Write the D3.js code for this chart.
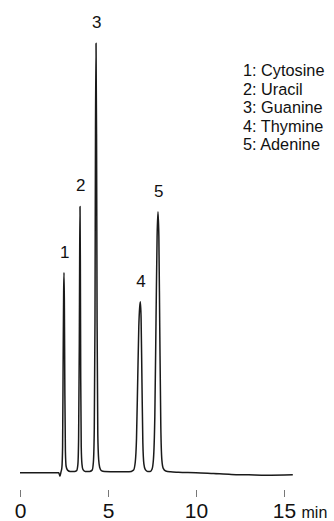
<!DOCTYPE html>
<html>
<head>
<meta charset="utf-8">
<script src="https://cdn.jsdelivr.net/npm/d3@7"></script>
<style>
  html, body { margin: 0; padding: 0; background: #fff; }
  svg { display: block; }
  text { font-family: "Liberation Sans", Arial, Helvetica, sans-serif; fill: #111; }
</style>
</head>
<body>
<svg id="chart" width="334" height="521"></svg>
<script>
// ---- Data ----
// chromatogram trace: time (min) and detector signal (relative, Guanine peak = 100)
const traceTime = [
  0.00, 1.00, 2.00, 2.20, 2.27, 2.33, 2.38, 2.42, 2.45, 2.48, 2.50, 2.52, 2.55, 2.58, 2.62, 2.70, 2.85,
  3.10, 3.22, 3.29, 3.33, 3.37, 3.39, 3.41, 3.43, 3.45, 3.48, 3.52, 3.58, 3.70,
  3.95, 4.10, 4.17, 4.22, 4.26, 4.29, 4.32, 4.35, 4.38, 4.42, 4.47, 4.53, 4.62, 4.80,
  5.50, 6.20, 6.45, 6.55, 6.62, 6.69, 6.75, 6.80, 6.84, 6.88, 6.93, 6.98, 7.04, 7.12, 7.25,
  7.40, 7.50, 7.58, 7.66, 7.73, 7.79, 7.84, 7.89, 7.94, 8.00, 8.06, 8.14, 8.28, 8.55,
  9.00, 10.0, 11.0, 12.0, 13.0, 14.0, 15.5
];
const traceSignal = [
  0.0, 0.0, 0.0, 0.0, -0.8, 0.2, 1.2, 6, 25, 42, 46.6, 40, 18, 5, 1.5, 0.6, 0.3,
  0.3, 0.5, 2.0, 8, 30, 50, 62, 48, 22, 6, 2.0, 0.7, 0.3,
  0.3, 0.6, 2.5, 10, 35, 80, 100, 78, 35, 9, 3.0, 1.2, 0.5, 0.3,
  0.2, 0.2, 0.6, 2.5, 8, 22, 34, 38.5, 39.8, 36, 21, 7, 2.0, 0.7, 0.3,
  0.3, 0.8, 3.0, 13, 36, 55, 60.8, 55, 34, 11, 3.0, 1.0, 0.4, 0.2,
  0.1, 0.0, -0.2, -0.4, -0.5, -0.6, -0.5
];

// peaks: label number, retention time, height
const peakLabels = ["1", "2", "3", "4", "5"];
const peakTimes = [2.50, 3.41, 4.32, 6.84, 7.84];
const peakHeights = [46.6, 62, 100, 39.8, 60.8];

// legend entries
const compounds = ["1: Cytosine", "2: Uracil", "3: Guanine", "4: Thymine", "5: Adenine"];

// axis ticks
const xTicks = [0, 5, 10, 15];
const xUnit = "min";

// ---- Drawing ----
const svg = d3.select("#chart");

const x = d3.scaleLinear().domain([0, 15]).range([20, 284]);
const y = d3.scaleLinear().domain([0, 100]).range([472.7, 43.3]);

const points = traceTime.map((t, i) => [t, traceSignal[i]]);

const line = d3.line()
  .x(d => x(d[0]))
  .y(d => y(d[1]))
  .curve(d3.curveMonotoneX);

svg.append("path")
  .datum(points)
  .attr("fill", "none")
  .attr("stroke", "#1a1a1a")
  .attr("stroke-width", 1.5)
  .attr("stroke-linejoin", "round")
  .attr("d", line);

// peak number labels
svg.append("g")
  .selectAll("text")
  .data(peakLabels)
  .join("text")
  .attr("x", (d, i) => x(peakTimes[i]) + 0.7)
  .attr("y", (d, i) => y(peakHeights[i]) - 15)
  .attr("text-anchor", "middle")
  .attr("font-size", 17)
  .text(d => d);

// legend
svg.append("g")
  .selectAll("text")
  .data(compounds)
  .join("text")
  .attr("x", 243)
  .attr("y", (d, i) => 76 + i * 18.6)
  .attr("font-size", 16.3)
  .text(d => d);

// x axis
const axis = d3.axisBottom(x)
  .tickValues(xTicks)
  .tickSize(7)
  .tickFormat(d3.format("d"));

const gx = svg.append("g")
  .attr("transform", "translate(0,490)")
  .call(axis);

gx.select(".domain").remove();
gx.selectAll(".tick line").attr("stroke", "#777").attr("stroke-width", 1);
gx.selectAll(".tick text")
  .attr("y", 28)
  .attr("dy", null)
  .attr("fill", "#111")
  .style("font-family", "'Liberation Sans', Arial, sans-serif")
  .style("font-size", "21px");

svg.append("text")
  .attr("x", x(15) + 17.5)
  .attr("y", 518)
  .attr("font-size", 16)
  .text(xUnit);
</script>
</body>
</html>
